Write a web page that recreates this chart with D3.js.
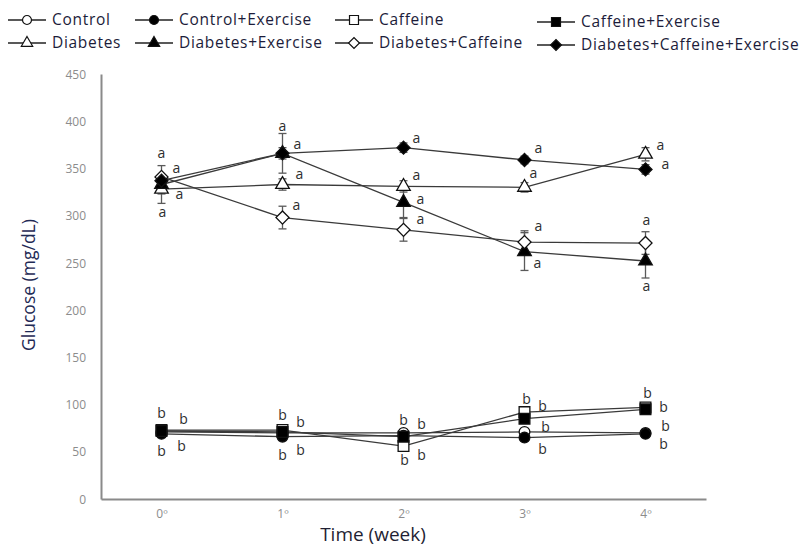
<!DOCTYPE html>
<html>
<head>
<meta charset="utf-8">
<script src="https://cdn.jsdelivr.net/npm/d3@7"></script>
<style>
body { margin: 0; background: #fff; }
text { font-family: "Open Sans", "Noto Sans", sans-serif; }
</style>
</head>
<body>
<svg id="chart" width="807" height="546"></svg>
<script>

// values (mg/dL)
let weeks = ['0º', '1º', '2º', '3º', '4º']
let y_ticks = [0, 50, 100, 150, 200, 250, 300, 350, 400, 450]

let series_names = ['Control', 'Control+Exercise', 'Caffeine', 'Caffeine+Exercise',
  'Diabetes', 'Diabetes+Exercise', 'Diabetes+Caffeine', 'Diabetes+Caffeine+Exercise']

let control = [71, 70, 70, 71, 70]
let control_ex = [69, 66, 67, 65, 69]
let caffeine = [73, 73, 56, 92, 97]
let caffeine_ex = [72, 71, 66, 85, 95]
let diabetes = [328, 333, 331, 330, 365]
let diabetes_ex = [333, 366, 314, 262, 252]
let diabetes_caf = [341, 298, 285, 272, 271]
let diabetes_caf_ex = [337, 366, 372, 359, 349]

let control_err = [3, 3, 3, 3, 3]
let control_ex_err = [3, 3, 3, 3, 3]
let caffeine_err = [3, 3, 3, 4, 4]
let caffeine_ex_err = [3, 3, 3, 4, 3]
let diabetes_err = [15, 6, 6, 5, 7]
let diabetes_ex_err = [10, 21, 16, 20, 18]
let diabetes_caf_err = [12, 12, 12, 12, 12]
let diabetes_caf_ex_err = [6, 6, 5, 4, 5]

// significance letters
let sig_control = ['b', 'b', 'b', 'b', 'b']
let sig_diabetes = ['a', 'a', 'a', 'a', 'a']

let all_values = [control, control_ex, caffeine, caffeine_ex, diabetes, diabetes_ex, diabetes_caf, diabetes_caf_ex]
let all_errors = [control_err, control_ex_err, caffeine_err, caffeine_ex_err, diabetes_err, diabetes_ex_err, diabetes_caf_err, diabetes_caf_ex_err]
let all_sigs = [sig_control, sig_control, sig_control, sig_control, sig_diabetes, sig_diabetes, sig_diabetes, sig_diabetes]

// marker look per series
let markers = [
  {shape: d3.symbolCircle, size: 90, fill: '#fff', rot: 0},
  {shape: d3.symbolCircle, size: 90, fill: '#000', rot: 0},
  {shape: d3.symbolSquare, size: 115, fill: '#fff', rot: 0},
  {shape: d3.symbolSquare, size: 115, fill: '#000', rot: 0},
  {shape: d3.symbolTriangle, size: 80, fill: '#fff', rot: 0},
  {shape: d3.symbolTriangle, size: 80, fill: '#000', rot: 0},
  {shape: d3.symbolSquare, size: 85, fill: '#fff', rot: 45},
  {shape: d3.symbolSquare, size: 85, fill: '#000', rot: 45}
]

// where each letter sits, relative to its point (px)
let letter_offsets = [
  [[20, 14], [18, 17], [0, -13], [21, -5], [20, -7]],
  [[0, 17], [0, 18], [1, 24], [18, 11], [18, 10]],
  [[0, -17], [0, -15], [18, 9], [2, -13], [2, -14]],
  [[22, -12], [18, -10], [18, -13], [18, -13], [18, -2]],
  [[1, 23], [17, -10], [13, -11], [9, -14], [15, -9]],
  [[18, 10], [0, -27], [17, -3], [13, 12], [1, 25]],
  [[0, -24], [14, -12], [17, -11], [14, -16], [1, -23]],
  [[15, -13], [15, -9], [13, -10], [14, -12], [20, -5]]
]

let svg = d3.select('#chart')

let x = d3.scalePoint().domain(weeks).range([101, 706]).padding(0.5)
let y = d3.scaleLinear().domain([0, 450]).range([499, 74])

// axes
let y_axis = svg.append('g')
  .attr('transform', 'translate(101,0)')
  .call(d3.axisLeft(y).tickValues(y_ticks).tickSize(0).tickPadding(15))
let x_axis = svg.append('g')
  .attr('transform', 'translate(0,499)')
  .call(d3.axisBottom(x).tickSize(0).tickPadding(10))

svg.selectAll('.domain').attr('stroke', '#8a8a8a').attr('stroke-width', 2)
y_axis.selectAll('text').attr('fill', '#8c8c8c').style('font-size', '12px').attr('dy', '0.35em')
x_axis.selectAll('text').attr('fill', '#8c8c8c').style('font-size', '12px')

svg.append('text')
  .attr('transform', 'translate(35,285) rotate(-90)')
  .attr('text-anchor', 'middle')
  .attr('fill', '#1f2a55')
  .style('font-size', '17.5px')
  .text('Glucose (mg/dL)')

svg.append('text')
  .attr('x', 373).attr('y', 541)
  .attr('text-anchor', 'middle')
  .attr('fill', '#1f1f33')
  .style('font-size', '19px')
  .text('Time (week)')

let line = d3.line().x((d, i) => x(weeks[i])).y(d => y(d))

// lines
svg.append('g').selectAll('path')
  .data(all_values)
  .join('path')
  .attr('d', d => line(d))
  .attr('fill', 'none')
  .attr('stroke', '#3a3a3a')
  .attr('stroke-width', 1.3)

// error bars
all_values.forEach((vals, s) => {
  let g = svg.append('g').attr('stroke', '#5a5a5a').attr('stroke-width', 1.3)
  vals.forEach((v, i) => {
    let e = all_errors[s][i]
    let cx = x(weeks[i])
    g.append('line').attr('x1', cx).attr('x2', cx).attr('y1', y(v - e)).attr('y2', y(v + e))
    g.append('line').attr('x1', cx - 4).attr('x2', cx + 4).attr('y1', y(v - e)).attr('y2', y(v - e))
    g.append('line').attr('x1', cx - 4).attr('x2', cx + 4).attr('y1', y(v + e)).attr('y2', y(v + e))
  })
})

// markers
all_values.forEach((vals, s) => {
  let m = markers[s]
  svg.append('g').selectAll('path')
    .data(vals)
    .join('path')
    .attr('d', d3.symbol().type(m.shape).size(m.size))
    .attr('transform', (d, i) => 'translate(' + x(weeks[i]) + ',' + y(d) + ') rotate(' + m.rot + ')')
    .attr('fill', m.fill)
    .attr('stroke', '#111')
    .attr('stroke-width', 1.3)
})

// letters
all_values.forEach((vals, s) => {
  svg.append('g').selectAll('text')
    .data(vals)
    .join('text')
    .attr('x', (d, i) => x(weeks[i]) + letter_offsets[s][i][0])
    .attr('y', (d, i) => y(d) + letter_offsets[s][i][1])
    .attr('dy', '0.35em')
    .attr('text-anchor', 'middle')
    .attr('fill', '#2e2e2e')
    .style('font-size', '14px')
    .text((d, i) => all_sigs[s][i])
})

// legend, 4 columns x 2 rows
let leg_cols = [8, 135, 335, 537]
let leg_rows = [20, 43]

series_names.forEach((name, s) => {
  let col = s % 4
  let row = Math.floor(s / 4)
  let ly = leg_rows[row] + (col == 3 ? 2 : 0)
  let lx = leg_cols[col]
  let g = svg.append('g').attr('transform', 'translate(' + lx + ',' + ly + ')')
  g.append('line').attr('x1', 0).attr('x2', 38).attr('y1', 0).attr('y2', 0)
    .attr('stroke', '#222').attr('stroke-width', 1.4)
  let m = markers[s]
  g.append('path')
    .attr('d', d3.symbol().type(m.shape).size(m.size * 0.7))
    .attr('transform', 'translate(19,0) rotate(' + m.rot + ')')
    .attr('fill', m.fill)
    .attr('stroke', '#111')
    .attr('stroke-width', 1.2)
  g.append('text')
    .attr('x', 44).attr('y', 0).attr('dy', '0.35em')
    .attr('fill', '#1c1c3a')
    .style('font-size', '15.5px')
    .style('letter-spacing', '0.7px')
    .text(name)
})

console.log('done')

</script>
</body>
</html>
